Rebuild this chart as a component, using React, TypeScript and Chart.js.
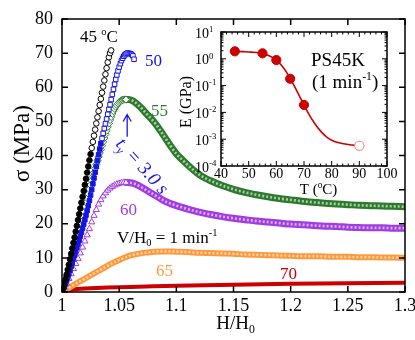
import React, { useEffect, useRef } from 'react';
import { Chart, registerables } from 'chart.js';
Chart.register(...registerables);

const FONT = "'Liberation Serif', 'Times New Roman', serif";

// ---------- main plot axes ----------
const xTickValues = [1, 1.05, 1.1, 1.15, 1.2, 1.25, 1.3];
const xTickLabels = ['1', '1.05', '1.1', '1.15', '1.2', '1.25', '1.3'];
const yTickValues = [0, 10, 20, 30, 40, 50, 60, 70, 80];

// ---------- main plot series (H/H0, stress MPa) ----------
const strain45 = [1.000,1.001,1.002,1.003,1.004,1.005,1.006,1.007,1.008,1.009,1.010,1.011,1.012,1.013,1.014,1.015,1.016,1.017,1.018,1.019,1.020,1.021,1.022,1.023,1.024,1.025,1.026,1.027,1.028,1.029,1.030,1.031,1.032,1.033,1.034,1.035,1.036,1.037,1.038,1.039,1.040,1.041,1.042,1.043];
const stress45 = [0,1.1,2.3,3.6,5.0,6.5,8.0,9.6,11.2,12.8,14.4,16.0,17.7,19.4,21.1,22.8,24.5,26.2,27.9,29.6,31.4,33.2,35.0,36.8,38.6,40.4,42.2,44.0,45.8,47.6,49.4,51.2,53.0,54.8,56.6,58.4,60.2,62.0,63.8,65.6,67.3,68.8,70.0,70.8];

const strain50 = [1.000,1.001,1.002,1.003,1.004,1.005,1.006,1.007,1.008,1.009,1.010,1.011,1.012,1.013,1.014,1.015,1.016,1.017,1.018,1.019,1.020,1.021,1.022,1.023,1.024,1.025,1.026,1.027,1.028,1.029,1.030,1.031,1.032,1.033,1.034,1.035,1.036,1.037,1.038,1.039,1.040,1.041,1.042,1.043,1.044,1.045,1.046,1.047,1.048,1.049,1.050,1.051,1.052,1.053,1.054,1.055,1.056,1.057,1.058,1.059,1.060,1.061,1.062,1.063];
const stress50 = [0,0.7,1.5,2.4,3.3,4.3,5.3,6.4,7.5,8.6,9.7,10.8,11.9,13.0,14.1,15.2,16.3,17.5,18.7,19.9,21.2,22.5,23.9,25.3,26.8,28.4,30.0,31.7,33.4,35.1,36.8,38.5,40.2,41.9,43.5,45.0,46.5,47.9,49.3,50.7,52.1,53.5,54.9,56.4,57.9,59.4,60.9,62.3,63.6,64.8,65.9,66.9,67.8,68.5,69.1,69.5,69.8,70.0,70.0,69.9,69.8,69.6,69.2,68.2];

const strain55Rise = [1.000,1.001,1.002,1.003,1.004,1.005,1.006,1.007,1.008,1.009,1.010,1.011,1.012,1.013,1.014,1.015,1.016,1.017,1.018,1.019,1.020,1.021,1.022,1.023,1.024,1.025,1.026,1.027,1.028,1.029,1.030,1.031,1.032,1.033,1.034,1.035,1.036,1.037,1.038,1.039,1.040,1.041,1.042,1.043,1.044,1.045,1.046,1.047,1.048,1.049,1.050,1.051,1.052,1.053,1.054,1.055,1.056];
const stress55Rise = [0,1.0,2.1,3.2,4.4,5.6,6.8,8.0,9.3,10.6,11.9,13.2,14.5,15.8,17.1,18.4,19.7,21.0,22.3,23.6,24.9,26.2,27.5,28.8,30.1,31.4,32.6,33.8,35.0,36.2,37.4,38.5,39.6,40.7,41.8,42.9,44.0,45.1,46.2,47.3,48.4,49.4,50.4,51.3,52.2,53.0,53.7,54.3,54.8,55.2,55.6,55.9,56.1,56.3,56.4,56.4,56.4];
const strain55Tail = [1.054,1.058,1.062,1.066,1.070,1.074,1.078,1.082,1.086,1.090,1.095,1.100,1.105,1.110,1.115,1.120,1.125,1.130,1.140,1.150,1.160,1.170,1.180,1.190,1.200,1.210,1.220,1.230,1.240,1.250,1.260,1.270,1.280,1.290,1.300];
const stress55Tail = [56.4,56.4,56.0,55.0,53.7,52.2,50.8,49.2,47.3,45.3,42.8,40.5,38.8,37.2,35.7,34.4,33.4,32.6,31.2,30.1,29.2,28.5,27.9,27.4,27.0,26.6,26.3,26.0,25.8,25.6,25.4,25.3,25.2,25.1,25.0];

const strain60Rise = [1.000,1.002,1.004,1.006,1.008,1.010,1.012,1.014,1.016,1.018,1.020,1.022,1.024,1.026,1.028,1.030,1.032,1.034,1.036,1.038,1.040,1.042,1.044,1.046,1.048,1.050,1.052,1.054,1.056];
const stress60Rise = [0,1.2,2.5,3.9,5.3,6.8,8.3,9.8,11.4,13.1,14.9,16.7,18.5,20.5,22.4,24.1,25.7,27.0,28.1,29.0,29.8,30.4,30.9,31.3,31.6,31.8,32.0,32.1,32.1];
const strain60Tail = [1.056,1.060,1.065,1.070,1.075,1.080,1.085,1.090,1.095,1.100,1.110,1.120,1.130,1.140,1.150,1.160,1.170,1.180,1.190,1.200,1.210,1.220,1.230,1.240,1.250,1.260,1.270,1.280,1.290,1.300];
const stress60Tail = [32.1,32.0,31.5,30.6,29.6,28.6,27.6,26.6,25.9,25.3,24.3,23.4,22.7,22.1,21.6,21.2,20.8,20.5,20.2,19.9,19.7,19.5,19.3,19.2,19.0,18.9,18.8,18.8,18.7,18.7];

const strain65 = [1.000,1.005,1.010,1.015,1.020,1.025,1.030,1.035,1.040,1.045,1.050,1.055,1.060,1.065,1.070,1.075,1.080,1.090,1.100,1.110,1.120,1.130,1.140,1.150,1.160,1.170,1.180,1.190,1.200,1.210,1.220,1.230,1.240,1.250,1.260,1.270,1.280,1.290,1.300];
const stress65 = [0,1.0,2.0,3.0,3.9,4.9,5.8,6.8,7.7,8.6,9.4,10.1,10.7,11.1,11.4,11.6,11.8,11.9,11.8,11.7,11.5,11.4,11.3,11.2,11.0,10.9,10.8,10.7,10.6,10.5,10.5,10.4,10.3,10.3,10.2,10.2,10.1,10.1,10.0];

const strain70 = [1.000,1.005,1.010,1.020,1.040,1.060,1.080,1.100,1.125,1.150,1.175,1.200,1.225,1.250,1.275,1.300];
const stress70 = [0,0.5,0.8,1.0,1.3,1.5,1.65,1.8,1.95,2.1,2.25,2.4,2.5,2.6,2.65,2.7];

// ---------- inset (modulus vs temperature) ----------
const insetT = [45, 55, 60, 65, 70];
const insetE = [1.9, 1.6, 0.9, 0.18, 0.019];
const insetOpenT = [90];
const insetOpenE = [0.00057];
const fitT = [45,48,51,54,57,60,62,64,66,68,70,72,74,76,78,80,83,86,90];
const fitE = [1.9,1.85,1.78,1.65,1.35,0.9,0.55,0.28,0.12,0.048,0.019,0.0078,0.0037,0.0020,0.00125,0.00092,0.00072,0.00063,0.00057];
const insetXTicks = [40, 50, 60, 70, 80, 90, 100];
const insetYExp = [-4, -3, -2, -1, 0, 1];

const C = {
  black: '#000000',
  blue: '#1414e6',
  green: '#2d7a2d',
  purple: '#a03ce0',
  orange: '#ff9a3c',
  red: '#cc0000',
};

const pts = (xs: number[], ys: number[]) => xs.map((x, i) => ({ x, y: ys[i] }));

type Seg = { t: string; s?: 'sup' | 'sub'; i?: boolean };
function drawRich(ctx: CanvasRenderingContext2D, segs: Seg[], x: number, y: number, size: number, color: string, align: 'left' | 'center' | 'right' = 'left') {
  const small = size * 0.62;
  const font = (g: Seg) => `${g.i ? 'italic ' : ''}${g.s ? small : size}px ${FONT}`;
  const widths = segs.map(g => { ctx.font = font(g); return ctx.measureText(g.t).width; });
  const total = widths.reduce((a, b) => a + b, 0);
  let cx = align === 'left' ? x : align === 'center' ? x - total / 2 : x - total;
  const base = y + size * 0.33;
  ctx.fillStyle = color;
  ctx.textAlign = 'left';
  ctx.textBaseline = 'alphabetic';
  segs.forEach((g, i) => {
    ctx.font = font(g);
    const by = g.s === 'sup' ? base - size * 0.42 : g.s === 'sub' ? base + size * 0.22 : base;
    ctx.fillText(g.t, cx, by);
    cx += widths[i];
  });
}

const mainDecor = {
  id: 'mainDecor',
  afterDraw(chart: any) {
    const { ctx, chartArea: a, scales } = chart;
    const xs = scales.x, ys = scales.y;
    const X = (v: number) => xs.getPixelForValue(v);
    const Y = (v: number) => ys.getPixelForValue(v);
    ctx.save();
    ctx.strokeStyle = '#000';
    ctx.lineWidth = 1.5;
    ctx.strokeRect(a.left, a.top, a.right - a.left, a.bottom - a.top);
    const TL = 6;
    ctx.beginPath();
    xTickValues.forEach(v => { const p = X(v); ctx.moveTo(p, a.bottom); ctx.lineTo(p, a.bottom - TL); ctx.moveTo(p, a.top); ctx.lineTo(p, a.top + TL); });
    yTickValues.forEach(v => { const p = Y(v); ctx.moveTo(a.left, p); ctx.lineTo(a.left + TL, p); ctx.moveTo(a.right, p); ctx.lineTo(a.right - TL, p); });
    ctx.stroke();

    // axis titles
    ctx.save();
    ctx.translate(21, (a.top + a.bottom) / 2 - 12);
    ctx.rotate(-Math.PI / 2);
    drawRich(ctx, [{ t: 'σ (MPa)' }], 0, 0, 23, '#000', 'center');
    ctx.restore();
    drawRich(ctx, [{ t: 'H/H' }, { t: '0', s: 'sub' }], (a.left + a.right) / 2 + 2, a.bottom + 31, 19, '#000', 'center');

    // curve labels
    drawRich(ctx, [{ t: '45 ' }, { t: 'o', s: 'sup' }, { t: 'C' }], X(1.0158), Y(74.8), 17, C.black, 'left');
    drawRich(ctx, [{ t: '50' }], X(1.0801), Y(68.0), 17, C.blue, 'center');
    drawRich(ctx, [{ t: '55' }], X(1.0853), Y(53.1), 17, C.green, 'center');
    drawRich(ctx, [{ t: '60' }], X(1.0582), Y(24.3), 17, C.purple, 'center');
    drawRich(ctx, [{ t: '65' }], X(1.0897), Y(6.45), 17, C.orange, 'center');
    drawRich(ctx, [{ t: '70' }], X(1.198), Y(5.4), 17, C.red, 'center');
    drawRich(ctx, [{ t: 'V/H' }, { t: '0', s: 'sub' }, { t: ' = 1 min' }, { t: '-1', s: 'sup' }], X(1.0481), Y(16.1), 17, C.black, 'left');

    // yield arrow
    const ax = X(1.057), aTip = Y(52), aTail = Y(45.5);
    ctx.strokeStyle = C.blue;
    ctx.lineWidth = 1.3;
    ctx.beginPath();
    ctx.moveTo(ax, aTail); ctx.lineTo(ax, aTip);
    ctx.moveTo(ax - 4, aTip + 7); ctx.lineTo(ax, aTip); ctx.lineTo(ax + 4, aTip + 7);
    ctx.stroke();
    ctx.save();
    ctx.translate(X(1.0705), Y(37.0));
    ctx.rotate(48 * Math.PI / 180);
    drawRich(ctx, [{ t: 't', i: true }, { t: 'y', s: 'sub', i: true }, { t: ' = 3.0 s', i: true }], 0, 0, 19, C.blue, 'center');
    ctx.restore();
    ctx.restore();
  },
};

const insetDecor = {
  id: 'insetDecor',
  afterDraw(chart: any) {
    const { ctx, chartArea: a, scales } = chart;
    const xs = scales.x, ys = scales.y;
    ctx.save();
    ctx.strokeStyle = '#000';
    ctx.lineWidth = 1.5;
    ctx.strokeRect(a.left, a.top, a.right - a.left, a.bottom - a.top);
    ctx.lineWidth = 1;
    ctx.beginPath();
    for (let t = 40; t <= 100; t += 2) {
      const p = xs.getPixelForValue(t);
      const L = t % 10 === 0 ? 5 : 2.5;
      ctx.moveTo(p, a.bottom); ctx.lineTo(p, a.bottom - L);
      ctx.moveTo(p, a.top); ctx.lineTo(p, a.top + L);
    }
    for (let e = -4; e <= 1; e++) {
      for (let m = 1; m <= 9; m++) {
        if (e === 1 && m > 1) break;
        const p = ys.getPixelForValue(m * Math.pow(10, e));
        const L = m === 1 ? 5 : 2.5;
        ctx.moveTo(a.left, p); ctx.lineTo(a.left + L, p);
        ctx.moveTo(a.right, p); ctx.lineTo(a.right - L, p);
      }
    }
    ctx.stroke();
    insetYExp.forEach(e => {
      const p = ys.getPixelForValue(Math.pow(10, e));
      drawRich(ctx, [{ t: '10' }, { t: String(e), s: 'sup' }], a.left - 26, p + 1, 14, '#000', 'left');
    });
    ctx.save();
    ctx.translate(186, (a.top + a.bottom) / 2 + 3);
    ctx.rotate(-Math.PI / 2);
    drawRich(ctx, [{ t: 'E (GPa)' }], 0, 0, 16, '#000', 'center');
    ctx.restore();
    drawRich(ctx, [{ t: 'T (' }, { t: 'o', s: 'sup' }, { t: 'C)' }], 318.5, a.bottom + 23, 15, '#000', 'center');
    drawRich(ctx, [{ t: 'PS45K' }], 311, 60, 19, '#000', 'left');
    drawRich(ctx, [{ t: '(1 min' }, { t: '-1', s: 'sup' }, { t: ')' }], 312, 82, 19, '#000', 'left');
    ctx.restore();
  },
};

function hollowBand(data: any[], color: string, inner: string, width: number) {
  return [
    { data, showLine: true, pointRadius: 0, borderColor: inner, borderWidth: width * 0.38, borderDash: [2, 2], cubicInterpolationMode: 'monotone' },
    { data, showLine: true, pointRadius: 0, borderColor: color, borderWidth: width, borderJoinStyle: 'round', borderCapStyle: 'round', cubicInterpolationMode: 'monotone' },
  ];
}

export default function App() {
  const mainRef = useRef<HTMLCanvasElement>(null);
  const insetRef = useRef<HTMLCanvasElement>(null);

  useEffect(() => {
    const main = new Chart(mainRef.current as HTMLCanvasElement, {
      type: 'scatter',
      data: {
        datasets: [
          {
            data: pts(strain45, stress45), pointStyle: 'circle', pointRadius: 2.8, pointBorderWidth: 1,
            pointBorderColor: C.black,
            pointBackgroundColor: (c: any) => (c.raw && c.raw.y < 42 ? C.black : '#ffffff'),
          },
          {
            data: pts(strain50, stress50), pointStyle: 'rect', pointRadius: 3.2, pointBorderWidth: 1,
            pointBorderColor: C.blue,
            pointBackgroundColor: (c: any) => (c.raw && c.raw.y < 45 ? C.blue : '#ffffff'),
          },
          {
            data: pts(strain55Rise, stress55Rise), pointStyle: 'rectRot', pointRadius: 3.6, pointBorderWidth: 1,
            pointBorderColor: C.green, pointBackgroundColor: '#ffffff',
          },
          ...hollowBand(pts(strain55Tail, stress55Tail), C.green, 'rgba(255,255,255,0.6)', 7),
          {
            data: pts(strain60Rise, stress60Rise), pointStyle: 'triangle', pointRadius: 3.6, pointBorderWidth: 1,
            pointBorderColor: C.purple, pointBackgroundColor: '#ffffff',
          },
          ...hollowBand(pts(strain60Tail, stress60Tail), C.purple, 'rgba(255,255,255,0.6)', 7),
          ...hollowBand(pts(strain65, stress65), C.orange, 'rgba(255,255,255,0.6)', 6),
          { data: pts(strain70, stress70), showLine: true, pointRadius: 0, borderColor: C.red, borderWidth: 4 },
        ] as any,
      },
      options: {
        animation: false,
        responsive: false,
        devicePixelRatio: 1,
        layout: { padding: { left: 0, top: 19, right: 10, bottom: 0 } },
        plugins: { legend: { display: false }, tooltip: { enabled: false } },
        scales: {
          x: {
            type: 'linear', min: 1, max: 1.3,
            afterBuildTicks: (s: any) => { s.ticks = xTickValues.map(v => ({ value: v })); },
            afterFit: (s: any) => { s.height = 48; s.paddingLeft = 0; s.paddingRight = 0; },
            ticks: { callback: (_v: any, i: number) => xTickLabels[i], font: { family: FONT, size: 18 }, color: '#000', padding: 3, maxRotation: 0, autoSkip: false },
            grid: { display: false, drawTicks: false },
            border: { display: false },
          },
          y: {
            type: 'linear', min: 0, max: 80,
            afterBuildTicks: (s: any) => { s.ticks = yTickValues.map(v => ({ value: v })); },
            afterFit: (s: any) => { s.width = 62; s.paddingTop = 0; s.paddingBottom = 0; },
            ticks: { font: { family: FONT, size: 18 }, color: '#000', padding: 9 },
            grid: { display: false, drawTicks: false },
            border: { display: false },
          },
        },
      } as any,
      plugins: [mainDecor],
    });

    const inset = new Chart(insetRef.current as HTMLCanvasElement, {
      type: 'scatter',
      data: {
        datasets: [
          { data: pts(insetT, insetE), pointStyle: 'circle', pointRadius: 4.6, pointBorderWidth: 1, pointBorderColor: C.red, pointBackgroundColor: C.red },
          { data: pts(insetOpenT, insetOpenE), pointStyle: 'circle', pointRadius: 4.6, pointBorderWidth: 1.2, pointBorderColor: '#f29a9a', pointBackgroundColor: '#ffffff' },
          { data: pts(fitT, fitE), showLine: true, pointRadius: 0, borderColor: C.red, borderWidth: 1.6, cubicInterpolationMode: 'monotone' },
        ] as any,
      },
      options: {
        animation: false,
        responsive: false,
        devicePixelRatio: 1,
        layout: { padding: { left: 181, top: 32, right: 28, bottom: 140 } },
        plugins: { legend: { display: false }, tooltip: { enabled: false } },
        scales: {
          x: {
            type: 'linear', min: 40, max: 100,
            afterBuildTicks: (s: any) => { s.ticks = insetXTicks.map(v => ({ value: v })); },
            afterFit: (s: any) => { s.height = 34; s.paddingLeft = 0; s.paddingRight = 0; },
            ticks: { font: { family: FONT, size: 14 }, color: '#000', padding: 0, maxRotation: 0, autoSkip: false },
            grid: { display: false, drawTicks: false },
            border: { display: false },
          },
          y: {
            type: 'logarithmic', min: 1e-4, max: 10,
            afterBuildTicks: (s: any) => { s.ticks = insetYExp.map(e => ({ value: Math.pow(10, e) })); },
            afterFit: (s: any) => { s.width = 40; s.paddingTop = 0; s.paddingBottom = 0; },
            ticks: { display: false },
            grid: { display: false, drawTicks: false },
            border: { display: false },
          },
        },
      } as any,
      plugins: [insetDecor],
    });

    return () => { main.destroy(); inset.destroy(); };
  }, []);

  return (
    <div style={{ position: 'fixed', left: 0, top: 0, width: 415, height: 340, background: '#ffffff', overflow: 'hidden' }}>
      <canvas ref={mainRef} width={415} height={340} style={{ position: 'absolute', left: 0, top: 0, width: 415, height: 340 }} />
      <canvas ref={insetRef} width={415} height={340} style={{ position: 'absolute', left: 0, top: 0, width: 415, height: 340, pointerEvents: 'none' }} />
    </div>
  );
}
